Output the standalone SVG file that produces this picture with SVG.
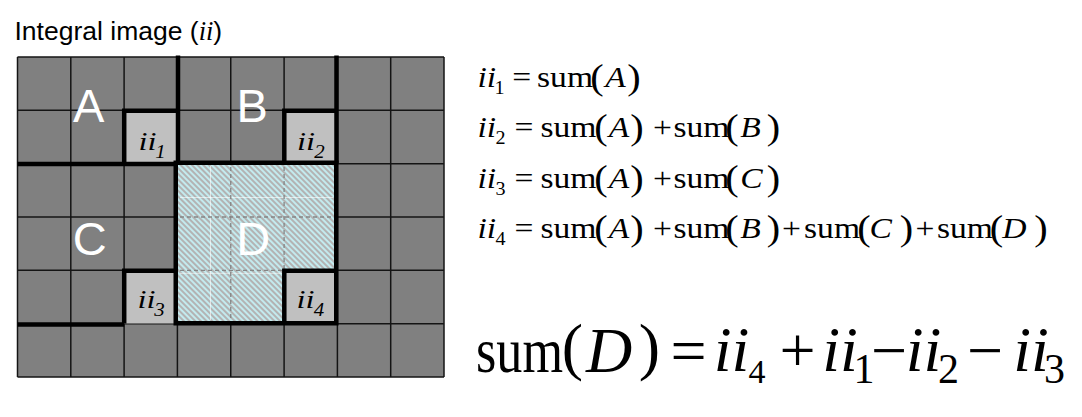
<svg xmlns="http://www.w3.org/2000/svg" width="1082" height="417" viewBox="0 0 1082 417">
  <style>
    .sans { font-family: "Liberation Sans", Arial, sans-serif; }
    .serif { font-family: "Liberation Serif", "Times New Roman", serif; fill: #000; }
    .it { font-style: italic; }
    .lbl { font-family: "Liberation Sans", Arial, sans-serif; font-size: 47px; fill: #ffffff; }
    .thin { stroke: #141414; stroke-width: 1.5; fill: none; }
    .thick { stroke: #000; stroke-width: 4.5; fill: none; }
    .dash { stroke: #858585; stroke-width: 1.3; stroke-dasharray: 4 3; fill: none; }
    .wl { stroke: #ffffff; stroke-opacity: 0.6; stroke-width: 1; fill: none; }
    .box { fill: #c0c0c0; }
    .par { font-size: 36px; }
  </style>
  <defs>
    <pattern id="hatch" width="4" height="4" patternUnits="userSpaceOnUse" patternTransform="rotate(-45)">
      <rect width="4" height="4" fill="#b3b3b3"/>
      <rect width="2" height="4" fill="#c3eaee"/>
    </pattern>
  </defs>
  <rect width="1082" height="417" fill="#ffffff"/>

  <g id="title">
    <text class="sans" x="14.5" y="39.5" font-size="26.5">Integral image (<tspan class="serif it">ii</tspan>)</text>
  </g>

  <g id="grid">
    <rect x="17.5" y="57" width="426.5" height="320" fill="#808080"/>
    <path class="thin" d="M17.5,57 V377 M70.8,57 V377 M124.1,57 V377 M177.4,57 V377 M230.75,57 V377 M284.1,57 V377 M337.4,57 V377 M390.7,57 V377 M444,57 V377
      M17.5,57 H444 M17.5,110.3 H444 M17.5,163.7 H444 M17.5,217 H444 M17.5,270.3 H444 M17.5,323.7 H444 M17.5,377 H444"/>
  </g>

  <g id="region-D">
    <path d="M178,164 H336.5 V270.8 H284.3 V323.5 H178 Z" fill="url(#hatch)"/>
    <path class="wl" d="M210.5,166 V320 M180,197.5 H333 M180,273.3 H284"/>
    <path class="dash" d="M230.75,167 V320 M284.1,167 V270 M180,217 H333 M180,270.3 H284"/>
    <text class="lbl" x="236.3" y="254.5">D</text>
  </g>

  <g id="region-A">
    <text class="lbl" x="73" y="122">A</text>
  </g>
  <g id="region-B">
    <text class="lbl" x="236.6" y="122">B</text>
  </g>
  <g id="region-C">
    <text class="lbl" x="72.7" y="254.5">C</text>
  </g>

  <g id="ii1">
    <rect class="box" x="124.2" y="110.8" width="53.8" height="53.2"/>
    <text class="serif it" text-anchor="middle" font-size="26" transform="translate(147.5,150) scale(1.25,1)">ii</text>
    <text class="serif it" text-anchor="middle" font-size="19" transform="translate(160.5,158) scale(1.1,1)">1</text>
  </g>
  <g id="ii2">
    <rect class="box" x="284.3" y="110.8" width="52.2" height="53.2"/>
    <text class="serif it" text-anchor="middle" font-size="26" transform="translate(306,150) scale(1.25,1)">ii</text>
    <text class="serif it" text-anchor="middle" font-size="19" transform="translate(319.5,158) scale(1.1,1)">2</text>
  </g>
  <g id="ii3">
    <rect class="box" x="124.2" y="270.8" width="53.8" height="52.7"/>
    <text class="serif it" text-anchor="middle" font-size="26" transform="translate(146.5,308) scale(1.25,1)">ii</text>
    <text class="serif it" text-anchor="middle" font-size="19" transform="translate(159.5,316) scale(1.1,1)">3</text>
  </g>
  <g id="ii4">
    <rect class="box" x="284.3" y="270.8" width="52.2" height="52.7"/>
    <text class="serif it" text-anchor="middle" font-size="26" transform="translate(305.5,308) scale(1.25,1)">ii</text>
    <text class="serif it" text-anchor="middle" font-size="19" transform="translate(319,316) scale(1.1,1)">4</text>
  </g>

  <g id="borders">
    <path class="thick" d="M178,55.5 V163"/>
    <path class="thick" d="M336.5,55.5 V163"/>
    <path class="thick" stroke-width="4" d="M17.5,164 H178"/>
    <path class="thick" d="M124.2,164 V110.8 H178"/>
    <path class="thick" d="M284.3,164 V110.8 H336.5"/>
    <path class="thick" d="M124.2,323.5 V270.8 H178"/>
    <path class="thick" d="M284.3,323.5 V270.8 H336.5"/>
    <path class="thick" d="M17.5,324.5 H124.2"/>
    <rect class="thick" stroke-width="7.5" x="175.75" y="162.75" width="160.5" height="160.5"/>
  </g>

  <g id="eq1" class="serif" text-anchor="middle" font-size="30" transform="scale(1.12,1)">
    <text class="it" x="434.6" y="87.3">ii</text>
    <text x="446" y="94.3" font-size="18">1</text>
    <text x="465.8" y="87.3">=</text>
    <text x="504.5" y="87.3">sum</text>
    <text class="par" x="533" y="89.2">(</text>
    <text class="it" x="549.6" y="87.3">A</text>
    <text class="par" x="566.1" y="89.2">)</text>
  </g>

  <g id="eq2" class="serif" text-anchor="middle" font-size="30" transform="scale(1.12,1)">
    <text class="it" x="434.6" y="137.5">ii</text>
    <text x="446.9" y="144.5" font-size="18">2</text>
    <text x="467.9" y="137.5">=</text>
    <text x="507.6" y="137.5">sum</text>
    <text class="par" x="536.6" y="139.4">(</text>
    <text class="it" x="552.8" y="137.5">A</text>
    <text class="par" x="568.75" y="139.4">)</text>
    <text x="591.5" y="137.5">+</text>
    <text x="626.3" y="137.5">sum</text>
    <text class="par" x="653.6" y="139.4">(</text>
    <text class="it" x="670.2" y="137.5">B</text>
    <text class="par" x="690.6" y="139.4">)</text>
  </g>

  <g id="eq3" class="serif" text-anchor="middle" font-size="30" transform="scale(1.12,1)">
    <text class="it" x="434.6" y="187.7">ii</text>
    <text x="446.9" y="194.7" font-size="18">3</text>
    <text x="467.9" y="187.7">=</text>
    <text x="507.6" y="187.7">sum</text>
    <text class="par" x="536.6" y="189.6">(</text>
    <text class="it" x="552.8" y="187.7">A</text>
    <text class="par" x="568.75" y="189.6">)</text>
    <text x="591.5" y="187.7">+</text>
    <text x="626.3" y="187.7">sum</text>
    <text class="par" x="653.6" y="189.6">(</text>
    <text class="it" x="671" y="187.7">C</text>
    <text class="par" x="690.6" y="189.6">)</text>
  </g>

  <g id="eq4" class="serif" text-anchor="middle" font-size="30" transform="scale(1.12,1)">
    <text class="it" x="434.6" y="237.9">ii</text>
    <text x="446.9" y="244.9" font-size="18">4</text>
    <text x="467.9" y="237.9">=</text>
    <text x="507.6" y="237.9">sum</text>
    <text class="par" x="536.6" y="239.8">(</text>
    <text class="it" x="552.8" y="237.9">A</text>
    <text class="par" x="568.75" y="239.8">)</text>
    <text x="591.5" y="237.9">+</text>
    <text x="626.3" y="237.9">sum</text>
    <text class="par" x="653.6" y="239.8">(</text>
    <text class="it" x="670.2" y="237.9">B</text>
    <text class="par" x="690.6" y="239.8">)</text>
    <text x="706.7" y="237.9">+</text>
    <text x="742.9" y="237.9">sum</text>
    <text class="par" x="771.4" y="239.8">(</text>
    <text class="it" x="786.4" y="237.9">C</text>
    <text class="par" x="809.4" y="239.8">)</text>
    <text x="825.9" y="237.9">+</text>
    <text x="861.6" y="237.9">sum</text>
    <text class="par" x="889.7" y="239.8">(</text>
    <text class="it" x="905.8" y="237.9">D</text>
    <text class="par" x="929.5" y="239.8">)</text>
  </g>

  <g id="eq-sumD" class="serif" text-anchor="middle" font-size="64">
    <text x="476" y="372" text-anchor="start" textLength="87" lengthAdjust="spacingAndGlyphs">sum</text>
    <text x="572.5" y="368">(</text>
    <text class="it" x="609" y="372">D</text>
    <text x="649.5" y="368">)</text>
    <text x="688.5" y="372">=</text>
    <text class="it" x="731.5" y="371">ii</text>
    <text x="757" y="383" font-size="34">4</text>
    <text x="797.5" y="372">+</text>
    <text class="it" x="840" y="371">ii</text>
    <text x="864" y="383" font-size="42">1</text>
    <text x="889" y="372">−</text>
    <text class="it" x="923.5" y="371">ii</text>
    <text x="948.5" y="383" font-size="42">2</text>
    <text x="985" y="372">−</text>
    <text class="it" x="1031" y="371">ii</text>
    <text x="1054.5" y="383" font-size="42">3</text>
  </g>
</svg>
